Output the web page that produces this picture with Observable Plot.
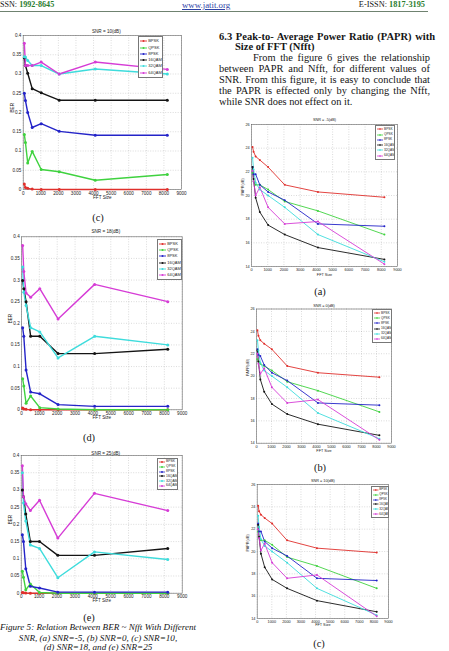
<!DOCTYPE html>
<html>
<head>
<meta charset="utf-8">
<script src="https://cdn.jsdelivr.net/npm/d3@7"></script>
<script src="https://cdn.jsdelivr.net/npm/@observablehq/plot@0.6"></script>
<style>
  html, body { margin: 0; padding: 0; background: #fff; }
  #page { position: relative; width: 449px; height: 651px; overflow: hidden; background: #fff;
          font-family: "Liberation Serif", "Times New Roman", serif; color: #151515; }
  .abs { position: absolute; white-space: nowrap; }
  .just { position: absolute; white-space: nowrap; text-align: justify; text-align-last: justify; }
  .chart { position: absolute; }
  .legend { position: absolute; background: #fff; border: 0.6px solid #777; box-sizing: border-box;
            font-family: "Liberation Sans", Arial, sans-serif; display: flex; flex-direction: column;
            justify-content: space-evenly; padding: 0 1px; color: #222; overflow: hidden; }
  .legend .row { display: flex; align-items: center; line-height: 1; }
</style>
</head>
<body>
<div id="page">
  <!-- running header -->
  <div class="abs" style="left:0;top:0;font-size:8.1px;line-height:10px;">SSN: <b style="color:#2a7d2e">1992-8645</b></div>
  <div class="abs" style="left:182px;top:0;font-size:8.8px;line-height:10px;color:#2f43a6;text-decoration:underline;">www.jatit.org</div>
  <div class="abs" style="right:24px;top:0;font-size:8.3px;line-height:10px;">E-ISSN: <b style="color:#2a7d2e">1817-3195</b></div>
  <div style="position:absolute;left:0;top:10.5px;width:428px;height:1.2px;background:#6f8270;"></div>

  <!-- section 6.3 -->
  <div class="just" style="left:219px;top:30.5px;width:216px;font-size:10.5px;line-height:11px;font-weight:bold;">6.3 Peak-to- Average Power Ratio (PAPR) with</div>
  <div class="abs" style="left:235px;top:41px;font-size:10.5px;line-height:11px;font-weight:bold;">Size of FFT (Nfft)</div>
  <div class="just" style="left:253px;top:52.2px;width:177px;font-size:10.4px;line-height:11px;">From the figure 6 gives the relationship</div>
  <div class="just" style="left:219px;top:62.8px;width:211px;font-size:10.4px;line-height:11px;">between PAPR and Nfft, for different values of</div>
  <div class="just" style="left:219px;top:73.8px;width:211px;font-size:10.4px;line-height:11px;">SNR. From this figure, it is easy to conclude that</div>
  <div class="just" style="left:219px;top:84.5px;width:211px;font-size:10.4px;line-height:11px;">the PAPR is effected only by changing the Nfft,</div>
  <div class="abs" style="left:219px;top:95.5px;font-size:10.4px;line-height:11px;">while SNR does not effect on it.</div>

  <!-- sub-figure labels -->
  <div class="abs" style="left:98px;top:217px;transform:translate(-50%,-50%);font-size:10.4px;">(c)</div>
  <div class="abs" style="left:89px;top:437px;transform:translate(-50%,-50%);font-size:10.4px;">(d)</div>
  <div class="abs" style="left:89px;top:617px;transform:translate(-50%,-50%);font-size:10.4px;">(e)</div>
  <div class="abs" style="left:320px;top:291px;transform:translate(-50%,-50%);font-size:10.4px;">(a)</div>
  <div class="abs" style="left:320px;top:467px;transform:translate(-50%,-50%);font-size:10.4px;">(b)</div>
  <div class="abs" style="left:319px;top:643px;transform:translate(-50%,-50%);font-size:10.4px;">(c)</div>

  <!-- figure 5 caption -->
  <div class="abs" style="left:98px;top:627px;transform:translate(-50%,-50%);font-size:9.1px;line-height:10px;font-style:italic;">Figure 5: Relation Between BER ~ Nfft With Different</div>
  <div class="abs" style="left:98px;top:637.5px;transform:translate(-50%,-50%);font-size:9.1px;line-height:10px;font-style:italic;">SNR, (a) SNR=-5, (b) SNR=0, (c) SNR=10,</div>
  <div class="abs" style="left:98px;top:646.5px;transform:translate(-50%,-50%);font-size:9.1px;line-height:9px;font-style:italic;">(d) SNR=18, and (e) SNR=25</div>
</div>
<script>
// FFT sizes simulated and the modulation schemes compared
const fftSizes = [64, 128, 256, 512, 1024, 2048, 4096, 8192];
const modulations = ["BPSK", "QPSK", "8PSK", "16QAM", "32QAM", "64QAM"];
const lineColors = ["#e0302c", "#3fd23f", "#2424c8", "#141414", "#3edcdc", "#d63cd6"];

// axis ticks
const fftTicks = [0, 1000, 2000, 3000, 4000, 5000, 6000, 7000, 8000, 9000];
const berTicks = [0, 0.05, 0.1, 0.15, 0.2, 0.25, 0.3, 0.35, 0.4];
const paprTicks = [14, 16, 18, 20, 22, 24, 26];

// BER vs FFT size, one row per modulation (BPSK, QPSK, 8PSK, 16QAM, 32QAM, 64QAM)
const berSnr10 = [
  [0.014, 0.005, 0.003, 0.001, 0, 0, 0, 0],
  [0.143, 0.122, 0.069, 0.099, 0.052, 0.046, 0.024, 0.039],
  [0.25, 0.231, 0.2, 0.161, 0.171, 0.151, 0.141, 0.141],
  [0.342, 0.322, 0.302, 0.262, 0.251, 0.232, 0.232, 0.232],
  [0.345, 0.344, 0.335, 0.322, 0.322, 0.3, 0.313, 0.3],
  [0.38, 0.322, 0.322, 0.322, 0.331, 0.3, 0.331, 0.312]
];
const berSnr18 = [
  [0.004, 0.002, 0.001, 0, 0, 0, 0, 0],
  [0.072, 0.055, 0.015, 0.032, 0.005, 0.002, 0, 0],
  [0.19, 0.17, 0.092, 0.041, 0.037, 0.012, 0.008, 0.008],
  [0.299, 0.28, 0.25, 0.17, 0.17, 0.13, 0.13, 0.14],
  [0.33, 0.272, 0.241, 0.19, 0.18, 0.12, 0.17, 0.15],
  [0.38, 0.32, 0.27, 0.26, 0.28, 0.21, 0.29, 0.25]
];
const berSnr25 = [
  [0.002, 0.001, 0.0005, 0, 0, 0, 0, 0],
  [0.064, 0.046, 0.01, 0.027, 0.002, 0, 0, 0],
  [0.17, 0.15, 0.071, 0.02, 0.015, 0.003, 0.003, 0.003],
  [0.3, 0.28, 0.23, 0.15, 0.15, 0.11, 0.11, 0.13],
  [0.35, 0.262, 0.21, 0.14, 0.13, 0.045, 0.12, 0.098],
  [0.37, 0.28, 0.26, 0.24, 0.27, 0.16, 0.29, 0.24]
];

// PAPR (dB) vs FFT size, same row order
const paprSnrM5 = [
  [24.1, 23.7, 23.3, 23.0, 22.4, 20.9, 20.3, 19.85],
  [21.9, 21.2, 20.9, 20.9, 20.5, 19.5, 18.7, 16.7],
  [22.4, 21.8, 21.8, 20.9, 20.3, 19.6, 17.6, 17.4],
  [22.4, 21.4, 19.8, 18.6, 17.5, 16.7, 15.6, 14.6],
  [23.2, 22.2, 21.1, 20.5, 20.0, 19.0, 16.7, 14.4],
  [22.1, 21.2, 20.0, 20.7, 19.0, 17.6, 17.8, 14.2]
];
const paprSnr0 = [
  [24.1, 23.6, 23.2, 22.9, 22.4, 20.9, 20.3, 19.9],
  [21.5, 21.3, 21.1, 20.9, 20.5, 19.5, 18.7, 16.8],
  [22.4, 21.9, 21.8, 21.0, 20.3, 19.6, 17.6, 17.4],
  [22.3, 21.3, 19.7, 18.6, 17.5, 16.6, 15.7, 14.7],
  [23.2, 22.3, 21.2, 20.5, 20.0, 19.0, 16.7, 14.4],
  [22.0, 21.1, 20.2, 20.7, 19.0, 17.6, 17.9, 14.3]
];
const paprSnr10 = [
  [24.1, 23.6, 23.3, 23.0, 22.5, 21.0, 20.3, 19.9],
  [21.8, 21.3, 21.0, 21.0, 20.6, 19.5, 18.7, 16.7],
  [22.5, 21.8, 21.8, 20.9, 20.3, 19.6, 17.6, 17.4],
  [22.4, 21.3, 19.8, 18.6, 17.5, 16.7, 15.6, 14.6],
  [23.2, 22.2, 21.1, 20.5, 20.0, 19.0, 16.7, 14.3],
  [22.0, 21.2, 20.1, 20.7, 19.0, 17.6, 17.9, 14.2]
];

const page = document.getElementById("page");
const berFormat = d => String(+d.toFixed(2));
const plainFormat = d => String(d);

function drawChart(cfg) {
  const rows = [];
  cfg.values.forEach((vals, i) =>
    vals.forEach((v, j) => rows.push({mod: modulations[i], fft: fftSizes[j], value: v})));
  const fs = cfg.fs;
  const svg = Plot.plot({
    width: cfg.w, height: cfg.h,
    marginLeft: cfg.ml, marginRight: cfg.mr, marginTop: cfg.mt, marginBottom: cfg.mb,
    style: {fontFamily: "Liberation Sans, Arial, sans-serif", fontSize: fs + "px",
            background: "transparent", color: "#222", overflow: "visible"},
    x: {domain: [0, 9000]},
    y: {domain: cfg.yDomain},
    color: {domain: modulations, range: lineColors},
    marks: [
      Plot.gridX(fftTicks, {stroke: "#888", strokeOpacity: 0.3, strokeDasharray: "1,1.5"}),
      Plot.gridY(cfg.yTicks, {stroke: "#888", strokeOpacity: 0.3, strokeDasharray: "1,1.5"}),
      Plot.frame({stroke: "#666", strokeWidth: 0.6}),
      Plot.axisX(fftTicks, {tickSize: 0, tickPadding: cfg.xPad, fontSize: fs, tickFormat: plainFormat, label: null}),
      Plot.axisY(cfg.yTicks, {tickSize: 0, tickPadding: 1.8, fontSize: fs, tickFormat: cfg.yFormat, label: null}),
      Plot.line(rows, {x: "fft", y: "value", z: "mod", stroke: "mod", strokeWidth: cfg.lw}),
      Plot.dot(rows, {x: "fft", y: "value", fill: "mod", r: cfg.r}),
      Plot.text([cfg.title], {text: d => d, frameAnchor: "top", dx: cfg.titleDx || 0, dy: cfg.titleDy, fontSize: fs}),
      Plot.text(["FFT Size"], {text: d => d, frameAnchor: "bottom", dy: cfg.xLabelDy, fontSize: fs}),
      Plot.text([cfg.yLabel], {text: d => d, frameAnchor: "left", dx: cfg.yLabelDx, rotate: -90, fontSize: fs})
    ]
  });
  const holder = document.createElement("div");
  holder.className = "chart";
  holder.style.left = cfg.x + "px";
  holder.style.top = cfg.y + "px";
  holder.appendChild(svg);
  page.appendChild(holder);
  drawLegend(cfg.legend);
}

function drawLegend(b) {
  const lg = document.createElement("div");
  lg.className = "legend";
  Object.assign(lg.style, {left: b.x + "px", top: b.y + "px", width: b.w + "px", height: b.h + "px", fontSize: b.fs + "px"});
  modulations.forEach((m, i) => {
    const row = document.createElement("div");
    row.className = "row";
    row.innerHTML =
      `<svg width="${b.sw}" height="4" style="flex:none;margin-right:${b.gap}px">` +
      `<line x1="0" y1="2" x2="${b.sw}" y2="2" stroke="${lineColors[i]}" stroke-width="${b.lw}"/>` +
      `<circle cx="${b.sw / 2}" cy="2" r="${b.r}" fill="${lineColors[i]}"/></svg><span>${m}</span>`;
    lg.appendChild(row);
  });
  page.appendChild(lg);
}

// BER panels (left column)
const berBase = {yDomain: [0, 0.4], yTicks: berTicks, yFormat: berFormat, yLabel: "BER", fs: 4.6, lw: 1.4, r: 1.5, xPad: 2};
drawChart({...berBase, values: berSnr10, title: "SNR = 10(dB)",
  x: 0, y: 22, w: 200, h: 182, ml: 22.7, mr: 19, mt: 13, mb: 15,
  titleDx: 4, titleDy: -6, xLabelDy: 9, yLabelDx: -10.7,
  legend: {x: 138, y: 36, w: 25, h: 42, fs: 4, sw: 7, gap: 1.2, lw: 0.9, r: 1}});
drawChart({...berBase, values: berSnr18, title: "SNR = 18(dB)",
  x: 0, y: 222, w: 200, h: 202, ml: 21, mr: 18.3, mt: 14.3, mb: 14.7,
  titleDx: 4, titleDy: -7.3, xLabelDy: 9.2, yLabelDx: -11,
  legend: {x: 157, y: 239, w: 25, h: 41, fs: 4, sw: 7, gap: 1.2, lw: 0.9, r: 1}});
drawChart({...berBase, values: berSnr25, title: "SNR = 25(dB)",
  x: 0, y: 446, w: 200, h: 160, ml: 20.7, mr: 18.3, mt: 9, mb: 13.3,
  titleDx: 4, titleDy: -4, xLabelDy: 9, yLabelDx: -10.7,
  legend: {x: 157, y: 458, w: 21, h: 32, fs: 3.4, sw: 6, gap: 1, lw: 0.8, r: 0.9}});

// PAPR panels (right column)
const paprBase = {yDomain: [14, 26], yTicks: paprTicks, yFormat: plainFormat, yLabel: "PAPR(dB)", fs: 3.8, lw: 0.9, r: 1, xPad: 1.8};
drawChart({...paprBase, values: paprSnrM5, title: "SNR = -5(dB)",
  x: 228, y: 112, w: 180, h: 168, ml: 23, mr: 11, mt: 12, mb: 14,
  titleDy: -6, xLabelDy: 9, yLabelDx: -9,
  legend: {x: 375, y: 125, w: 20, h: 35, fs: 3.2, sw: 6, gap: 1, lw: 0.8, r: 0.8}});
drawChart({...paprBase, values: paprSnr0, title: "SNR = 0(dB)",
  x: 232, y: 298, w: 170, h: 158, ml: 24, mr: 11, mt: 10.5, mb: 13.3,
  titleDy: -4.5, xLabelDy: 8.3, yLabelDx: -9,
  legend: {x: 372, y: 309, w: 20, h: 34, fs: 3.2, sw: 6, gap: 1, lw: 0.8, r: 0.8}});
drawChart({...paprBase, values: paprSnr10, title: "SNR = 10(dB)",
  x: 232, y: 473, w: 168, h: 159, ml: 24.7, mr: 12, mt: 11, mb: 14,
  titleDy: -5, xLabelDy: 7.7, yLabelDx: -9,
  legend: {x: 371, y: 486, w: 18, h: 32, fs: 3, sw: 5.5, gap: 0.8, lw: 0.8, r: 0.8}});
</script>
</body>
</html>
